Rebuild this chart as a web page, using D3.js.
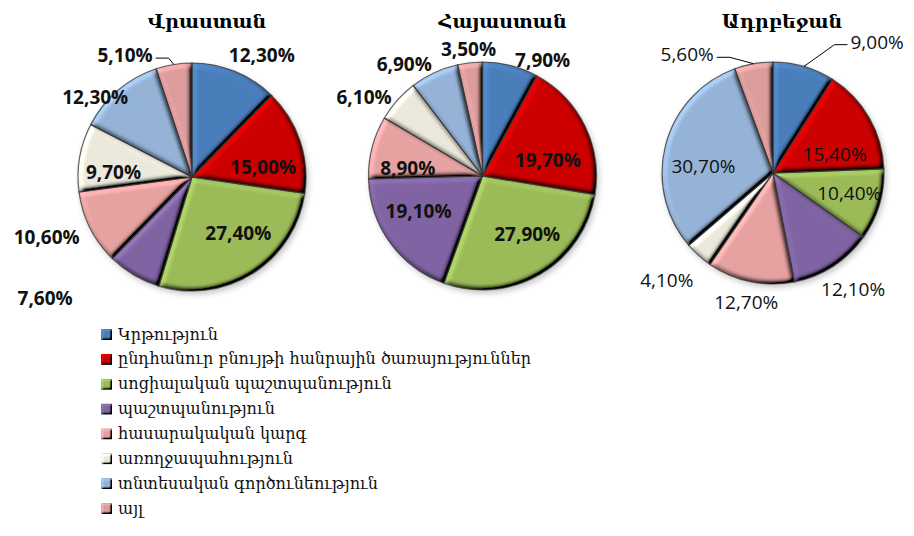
<!DOCTYPE html>
<html>
<head>
<meta charset="utf-8">
<script src="https://cdn.jsdelivr.net/npm/d3@7"></script>
<style>
  body { margin: 0; background: #fff; }
  svg { display: block; }
</style>
</head>
<body>
<div id="chart"></div>
<script>
const categories = [
  'Կրթություն',
  'ընդհանուր բնույթի հանրային ծառայություններ',
  'սոցիալական պաշտպանություն',
  'պաշտպանություն',
  'հասարակական կարգ',
  'առողջապահություն',
  'տնտեսական գործունեություն',
  'այլ'
]
const countries = ['Վրաստան', 'Հայաստան', 'Ադրբեջան']
const georgiaValues = [12.3, 15.0, 27.4, 7.6, 10.6, 9.7, 12.3, 5.1]
const armeniaValues = [7.9, 19.7, 27.9, 19.1, 8.9, 6.1, 6.9, 3.5]
const azerbaijanValues = [9.0, 15.4, 10.4, 12.1, 12.7, 4.1, 30.7, 5.6]

const colors = ['#4a7ebb', '#cc0000', '#9bbb59', '#8064a2', '#e6a1a1', '#ece9dc', '#95b3d7', '#dc9c9c']

const width = 914
const height = 536

// label placement: radius factor and angle nudge (deg) per slice
const pies = [
  {
    name: countries[0], values: georgiaValues, cy: 177, r: 114, bold: true, titleShift: 15,
    labelK: [1.23, 0.63, 0.64, 1.67, 1.38, 0.69, 1.10, 1.22],
    nudge: [7.7, 10.7, -7, 19.9, 4.1, -6.3, -10, -19.6],
    leaders: [7]
  },
  {
    name: countries[1], values: armeniaValues, cy: 176, r: 114, bold: true, titleShift: 20,
    labelK: [1.15, 0.59, 0.64, 0.64, 0.66, 1.25, 1.20, 1.12],
    nudge: [13.1, 12.3, -7.4, 7.1, -8.5, -7.8, -9.9, 0],
    leaders: []
  },
  {
    name: countries[2], values: azerbaijanValues, cy: 173, r: 111, bold: false, titleShift: 9,
    labelK: [1.51, 0.58, 0.71, 1.27, 1.19, 1.36, 0.63, 1.32],
    nudge: [22.2, 12.9, -1.9, -1.7, 0, 2.8, -8.9, -25.8],
    leaders: [0, 7]
  }
]

const x = d3.scalePoint().domain(countries).range([192, 773])
const fmt = v => d3.format('.2f')(v).replace('.', ',') + '%'
const toRad = deg => deg * Math.PI / 180

const svg = d3.select('#chart').append('svg')
  .attr('width', width)
  .attr('height', height)

svg.append('rect').attr('width', width).attr('height', height).attr('fill', '#fff')

const defs = svg.append('defs')

function bevel (id, blur, scale) {
  const f = defs.append('filter').attr('id', id)
    .attr('x', '-10%').attr('y', '-10%').attr('width', '120%').attr('height', '120%')
  f.append('feGaussianBlur').attr('in', 'SourceAlpha').attr('stdDeviation', blur).attr('result', 'blur')
  f.append('feDiffuseLighting').attr('in', 'blur').attr('surfaceScale', scale)
    .attr('diffuseConstant', 1).attr('lighting-color', '#fff').attr('result', 'light')
    .append('feDistantLight').attr('azimuth', 225).attr('elevation', 45)
  f.append('feComposite').attr('in', 'SourceGraphic').attr('in2', 'light')
    .attr('operator', 'arithmetic').attr('k1', 1.414).attr('k2', 0).attr('k3', 0).attr('k4', 0)
    .attr('result', 'lit')
  f.append('feComposite').attr('in', 'lit').attr('in2', 'SourceAlpha').attr('operator', 'in')
}
bevel('bevel', 2.5, 5)
bevel('bevelSmall', 1.2, 3)

const shadow = defs.append('filter').attr('id', 'shadow')
  .attr('x', '-20%').attr('y', '-20%').attr('width', '140%').attr('height', '140%')
shadow.append('feGaussianBlur').attr('in', 'SourceAlpha').attr('stdDeviation', 3)

const pie = d3.pie().sort(null).value(d => d)

pies.forEach(p => {
  const cx = x(p.name)
  const g = svg.append('g').attr('transform', `translate(${cx},${p.cy})`)
  const arcs = pie(p.values)
  const arc = d3.arc().innerRadius(0).outerRadius(p.r)

  // soft shadow under the pie
  g.append('circle')
    .attr('cx', 2).attr('cy', 3).attr('r', p.r)
    .attr('fill', '#000').attr('opacity', 0.25)
    .attr('filter', 'url(#shadow)')

  g.selectAll('path.slice')
    .data(arcs)
    .join('path')
    .attr('class', 'slice')
    .attr('d', arc)
    .attr('fill', (d, i) => colors[i])
    .attr('filter', 'url(#bevel)')

  g.selectAll('path.edge')
    .data(arcs)
    .join('path')
    .attr('class', 'edge')
    .attr('d', arc)
    .attr('fill', 'none')
    .attr('stroke', '#333')
    .attr('stroke-opacity', 0.75)
    .attr('stroke-width', 1.2)

  // title
  svg.append('text')
    .attr('x', cx + p.titleShift)
    .attr('y', 28)
    .attr('text-anchor', 'middle')
    .style('font-family', '"DejaVu Serif", "DejaVu Sans", serif')
    .style('font-weight', 'bold')
    .style('font-size', '19px')
    .text(p.name)

  // labels
  const labelPos = arcs.map((d, i) => {
    const a = (d.startAngle + d.endAngle) / 2 + toRad(p.nudge[i])
    const rr = p.r * p.labelK[i]
    return [Math.sin(a) * rr, -Math.cos(a) * rr]
  })

  const labels = g.selectAll('text.lbl')
    .data(arcs)
    .join('text')
    .attr('class', 'lbl')
    .attr('x', (d, i) => labelPos[i][0])
    .attr('y', (d, i) => labelPos[i][1])
    .attr('text-anchor', 'middle')
    .attr('dominant-baseline', 'central')
    .style('font-family', '"Open Sans", "Liberation Sans", sans-serif')
    .style('font-weight', p.bold ? 'bold' : 'normal')
    .style('font-size', '19px')
    .attr('fill', '#111')
    .text(d => fmt(d.data))

  // leader lines
  p.leaders.forEach(i => {
    const d = arcs[i]
    const a = (d.startAngle + d.endAngle) / 2
    const edge = [Math.sin(a) * p.r, -Math.cos(a) * p.r]
    const bb = labels.nodes()[i].getBBox()
    const right = edge[0] < labelPos[i][0] ? -1 : 1
    const sx = right > 0 ? bb.x + bb.width + 3 : bb.x - 3
    const sy = labelPos[i][1] + 3
    const pts = [[sx, sy], [sx + right * 13, sy], edge]
    g.append('path')
      .attr('d', d3.line()(pts))
      .attr('fill', 'none')
      .attr('stroke', '#000')
      .attr('stroke-width', 1)
  })
})

// legend
const legendY = d3.scalePoint().domain(categories).range([334, 508])
const legend = svg.append('g')
legend.selectAll('rect')
  .data(categories)
  .join('rect')
  .attr('x', 101)
  .attr('y', d => legendY(d) - 5)
  .attr('width', 11)
  .attr('height', 11)
  .attr('fill', (d, i) => colors[i])
  .attr('filter', 'url(#bevelSmall)')

legend.selectAll('text')
  .data(categories)
  .join('text')
  .attr('x', 118)
  .attr('y', d => legendY(d))
  .attr('dominant-baseline', 'central')
  .style('font-family', '"DejaVu Serif", "DejaVu Sans", serif')
  .style('font-size', '16px')
  .attr('fill', '#111')
  .text(d => d)
</script>
</body>
</html>
